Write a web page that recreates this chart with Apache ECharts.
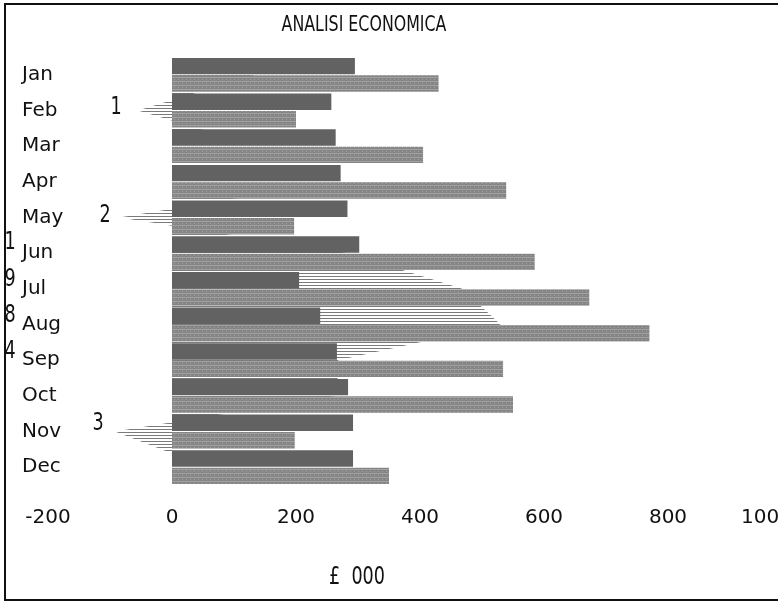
<!DOCTYPE html>
<html>
<head>
<meta charset="utf-8">
<script src="https://cdn.jsdelivr.net/npm/echarts@6/dist/echarts.min.js"></script>
<style>
  html, body { margin: 0; padding: 0; background: #fff; }
  #chart { width: 778px; height: 611px; }
</style>
</head>
<body>
<div id="chart"></div>
<script>
// mesi
var months = ['Jan', 'Feb', 'Mar', 'Apr', 'May', 'Jun', 'Jul', 'Aug', 'Sep', 'Oct', 'Nov', 'Dec']
// barre scure (costi) e barre retinate (ricavi), in £ 000
var costi = [295, 257, 264, 272, 283, 302, 205, 239, 266, 284, 292, 292]
var ricavi = [430, 200, 405, 539, 197, 585, 673, 770, 534, 550, 198, 350]
// area a righe (utile)
var utile = [135, -55, 140, 265, -85, 285, 468, 530, 268, 266, -92, 58]
var xTicks = [-200, 0, 200, 400, 600, 800, 1000]

var FONT = '"DejaVu Sans", sans-serif'

// retino a righe orizzontali per l'area
function stripes () {
  var c = document.createElement('canvas')
  c.width = 4
  c.height = 3
  var ctx = c.getContext('2d')
  ctx.fillStyle = '#7a7a7a'
  ctx.fillRect(0, 0, 4, 1)
  return c
}
// retino chiaro per le barre dei ricavi
function grain () {
  var c = document.createElement('canvas')
  c.width = 4
  c.height = 4
  var ctx = c.getContext('2d')
  ctx.fillStyle = '#858585'
  ctx.fillRect(0, 0, 4, 4)
  ctx.fillStyle = '#a2a2a2'
  ctx.fillRect(0, 1, 4, 1)
  ctx.fillRect(2, 3, 1, 1)
  return c
}

// testo stretto e alto, tipo stampante ad aghi
function label (txt, x, y, size) {
  return {
    type: 'text',
    x: x,
    y: y,
    scaleX: 0.88,
    scaleY: 1.2,
    style: { text: txt, font: size + 'px ' + FONT, fill: '#111', align: 'center', verticalAlign: 'middle' }
  }
}

var myChart = echarts.init(document.getElementById('chart'))
myChart.setOption({
  animation: false,
  backgroundColor: '#fff',
  grid: {
    left: 48,
    width: 744,
    top: 57,
    bottom: 126,
    containLabel: false,
    outerBoundsMode: 'none'
  },
  xAxis: {
    type: 'value',
    min: -200,
    max: 1000,
    interval: 200,
    splitLine: { show: false },
    axisLine: { show: false },
    axisTick: { show: false },
    axisLabel: {
      margin: 23,
      fontFamily: FONT,
      fontSize: 20,
      color: '#111',
      alignMaxLabel: 'right',
      formatter: function (v) { return xTicks.indexOf(v) >= 0 ? String(v) : '' }
    }
  },
  yAxis: [
    {
      type: 'category',
      data: months,
      inverse: true,
      axisLine: { show: false, onZero: false },
      axisTick: { show: false },
      axisLabel: {
        align: 'left',
        margin: 26,
        fontFamily: FONT,
        fontSize: 20,
        color: '#111'
      }
    }
  ],
  series: [
    {
      name: 'utile',
      type: 'line',
      data: utile,
      showSymbol: false,
      lineStyle: { width: 0, opacity: 0 },
      areaStyle: { color: { image: stripes(), repeat: 'repeat' }, opacity: 1 },
      z: 1
    },
    {
      name: 'costi',
      type: 'bar',
      data: costi,
      barGap: '6%',
      barCategoryGap: '5%',
      itemStyle: { color: '#626262' },
      z: 3
    },
    {
      name: 'ricavi',
      type: 'bar',
      data: ricavi,
      itemStyle: { color: { image: grain(), repeat: 'repeat' } },
      z: 3
    }
  ],
  graphic: [
    { type: 'rect', shape: { x: 5, y: 4, width: 800, height: 596 }, style: { fill: 'none', stroke: '#111', lineWidth: 2 }, silent: true },
    label('ANALISI ECONOMICA', 364, 25, 18),
    label('1', 116, 108, 20),
    label('2', 105, 216, 20),
    label('3', 98, 424, 20),
    label('1', 10, 243, 20),
    label('9', 10, 280, 20),
    label('8', 10, 316, 20),
    label('4', 10, 352, 20),
    label('£  000', 357, 578, 20)
  ]
})
</script>
</body>
</html>
